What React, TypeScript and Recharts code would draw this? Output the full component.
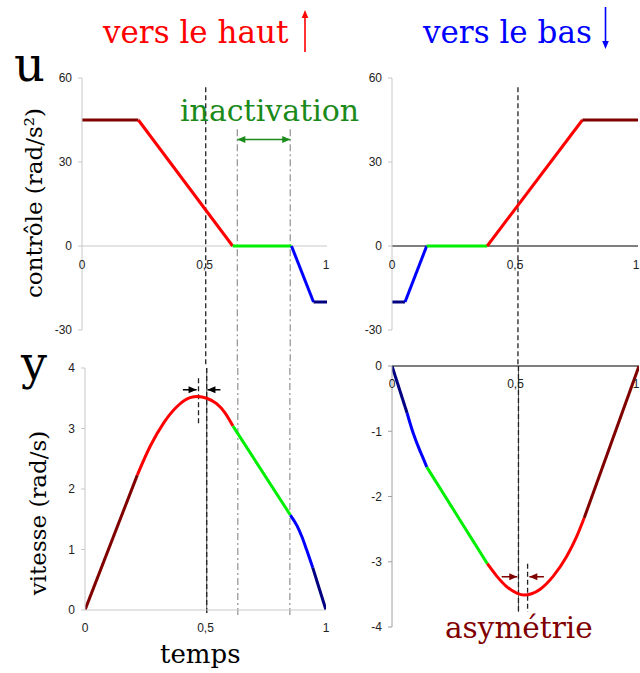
import React from 'react';
import { LineChart, Line, XAxis, YAxis, ReferenceLine } from 'recharts';

const MAROON = '#800000';
const RED = '#ff0000';
const LIME = '#00ee00';
const BLUE = '#0000ff';
const NAVY = '#000080';

// ticks
const tempsTicks = [0, 0.5, 1];
const uTicks = [-30, 0, 30, 60];
const vHautTicks = [0, 1, 2, 3, 4];
const vBasTicks = [-4, -3, -2, -1, 0];

// contrôle u, "vers le haut"
const uHautT = [0, 0.23, 0.615, 0.855, 0.945, 1];
const uHautV = [45, 45, 0, 0, -20, -20];
const uHautColors = [MAROON, RED, LIME, BLUE, NAVY];

// contrôle u, "vers le bas"
const uBasT = [0, 0.053, 0.141, 0.387, 0.774, 1];
const uBasV = [-20, -20, 0, 0, 45, 45];
const uBasColors = [NAVY, BLUE, LIME, RED, MAROON];

// vitesse y, "vers le haut"
const vHautT1 = [0, 0.217];
const vHautV1 = [0, 2.23];
const vHautT2 = [0.217, 0.271, 0.326, 0.381, 0.436, 0.468, 0.505, 0.546, 0.581, 0.614];
const vHautV2 = [2.23, 2.71, 3.09, 3.36, 3.51, 3.53, 3.5, 3.41, 3.26, 3.04];
const vHautT3 = [0.614, 0.852];
const vHautV3 = [3.04, 1.57];
const vHautT4 = [0.852, 0.88, 0.9, 0.92, 0.945];
const vHautV4 = [1.57, 1.39, 1.21, 0.99, 0.7];
const vHautT5 = [0.945, 0.97, 1];
const vHautV5 = [0.7, 0.38, 0];

// vitesse y, "vers le bas"
const vBasT1 = [0, 0.061];
const vBasV1 = [0, -0.72];
const vBasT2 = [0.061, 0.085, 0.112, 0.128, 0.141];
const vBasV2 = [-0.72, -1.02, -1.29, -1.43, -1.55];
const vBasT3 = [0.141, 0.386];
const vBasV3 = [-1.55, -3.03];
const vBasT4 = [0.386, 0.424, 0.464, 0.505, 0.535, 0.565, 0.6, 0.653, 0.707, 0.747, 0.778];
const vBasV4 = [-3.03, -3.22, -3.38, -3.48, -3.51, -3.49, -3.42, -3.22, -2.92, -2.62, -2.33];
const vBasT5 = [0.778, 1];
const vBasV5 = [-2.33, 0];

// annotation positions (time)
const midHaut = 0.505;
const midBas = 0.512;
const inactStart = 0.634;
const inactEnd = 0.85;
const peakHaut = 0.471;
const peakBas = 0.549;

const seg = (t: number[], v: number[]) => t.map((x, i) => ({ t: x, v: v[i] }));
const stepSegs = (t: number[], v: number[]) =>
  t.slice(0, -1).map((_, i) => seg([t[i], t[i + 1]], [v[i], v[i + 1]]));

const TICK_FONT = 'Liberation Sans, Arial, sans-serif';
const SERIF = 'DejaVu Serif, serif';

const makeTempsTick = (lift: number) => (props: any) => {
  const { x, y, payload } = props;
  return (
    <text x={x} y={y + lift} textAnchor="middle" fontFamily={TICK_FONT} fontSize={12} fill="#222">
      {String(payload.value).replace('.', ',')}
    </text>
  );
};

const makeArrow = (color: string, both = false) => (p: any) => {
  const { x1, y1, x2, y2 } = p;
  const a = Math.atan2(y2 - y1, x2 - x1);
  const L = 8;
  const W = 3.5;
  const head = (x: number, y: number, ang: number) => {
    const bx = x - L * Math.cos(ang);
    const by = y - L * Math.sin(ang);
    return `${x},${y} ${bx + W * Math.sin(ang)},${by - W * Math.cos(ang)} ${bx - W * Math.sin(ang)},${by + W * Math.cos(ang)}`;
  };
  return (
    <g>
      <line x1={x1} y1={y1} x2={x2} y2={y2} stroke={color} strokeWidth={1.5} />
      <polygon points={head(x2, y2, a)} fill={color} />
      {both && <polygon points={head(x1, y1, a + Math.PI)} fill={color} />}
    </g>
  );
};

const yTick = { fontSize: 12, fill: '#222', fontFamily: TICK_FONT };
const DASH = '5 3';
const DASHDOT = '7 3 2 3';

const lineProps = { dataKey: 'v', dot: false, isAnimationActive: false, strokeWidth: 3 } as const;

export default function App() {
  const uHautSegs = stepSegs(uHautT, uHautV);
  const uBasSegs = stepSegs(uBasT, uBasV);
  return (
    <div style={{ position: 'absolute', left: 0, top: 0, width: 640, height: 673, background: '#fff' }}>
      {/* top-left: contrôle, vers le haut */}
      <div style={{ position: 'absolute', left: 0, top: 0 }}>
        <LineChart width={330} height={368} margin={{ top: 78, right: 3, left: 42, bottom: 18 }}>
          <XAxis type="number" dataKey="t" domain={[0, 1]} ticks={tempsTicks} height={20}
            axisLine={false} tickLine={false} tickSize={0} tickMargin={0} tick={makeTempsTick(-61)} allowDataOverflow />
          <YAxis type="number" domain={[-30, 60]} ticks={uTicks} width={40} interval={0}
            axisLine={{ stroke: '#c8c8c8' }} tickLine={{ stroke: '#c8c8c8' }} tickSize={4} tickMargin={6} tick={yTick} allowDataOverflow />
          <ReferenceLine y={0} stroke="#c8c8c8" />
          <ReferenceLine segment={[{ x: midHaut, y: 56.7 }, { x: midHaut, y: -43.3 }]} ifOverflow="visible" stroke="#222" strokeDasharray={DASH} strokeWidth={1.3} />
          <ReferenceLine segment={[{ x: inactStart, y: 41.7 }, { x: inactStart, y: -43.3 }]} ifOverflow="visible" stroke="#999" strokeDasharray={DASHDOT} strokeWidth={1.3} />
          <ReferenceLine segment={[{ x: inactEnd, y: 41.7 }, { x: inactEnd, y: -43.3 }]} ifOverflow="visible" stroke="#999" strokeDasharray={DASHDOT} strokeWidth={1.3} />
          <ReferenceLine segment={[{ x: inactStart, y: 38 }, { x: inactEnd, y: 38 }]} ifOverflow="visible" shape={makeArrow('#1a8a1a', true)} />
          {uHautSegs.map((d, i) => (
            <Line key={i} data={d} type="linear" stroke={uHautColors[i]} {...lineProps} />
          ))}
        </LineChart>
      </div>

      {/* top-right: contrôle, vers le bas */}
      <div style={{ position: 'absolute', left: 340, top: 0 }}>
        <LineChart width={300} height={368} margin={{ top: 78, right: 2, left: 12, bottom: 18 }}>
          <XAxis type="number" dataKey="t" domain={[0, 1]} ticks={tempsTicks} height={20}
            axisLine={false} tickLine={false} tickSize={0} tickMargin={0} tick={makeTempsTick(-61)} allowDataOverflow />
          <YAxis type="number" domain={[-30, 60]} ticks={uTicks} width={40} interval={0}
            axisLine={{ stroke: '#c8c8c8' }} tickLine={{ stroke: '#c8c8c8' }} tickSize={4} tickMargin={6} tick={yTick} allowDataOverflow />
          <ReferenceLine y={0} stroke="#000" strokeWidth={1.2} />
          <ReferenceLine segment={[{ x: midBas, y: 56.7 }, { x: midBas, y: -43.3 }]} ifOverflow="visible" stroke="#222" strokeDasharray={DASH} strokeWidth={1.3} />
          {uBasSegs.map((d, i) => (
            <Line key={i} data={d} type="linear" stroke={uBasColors[i]} {...lineProps} />
          ))}
        </LineChart>
      </div>

      {/* bottom-left: vitesse, vers le haut */}
      <div style={{ position: 'absolute', left: 0, top: 340 }}>
        <LineChart width={330} height={333} margin={{ top: 28, right: 4, left: 45, bottom: 33 }}>
          <XAxis type="number" dataKey="t" domain={[0, 1]} ticks={tempsTicks} height={30}
            axisLine={{ stroke: '#c8c8c8' }} tickLine={false} tickSize={0} tickMargin={0} tick={makeTempsTick(22)} allowDataOverflow />
          <YAxis type="number" domain={[0, 4]} ticks={vHautTicks} width={40} interval={0}
            axisLine={{ stroke: '#c8c8c8' }} tickLine={{ stroke: '#c8c8c8' }} tickSize={4} tickMargin={6} tick={yTick} allowDataOverflow />
          <ReferenceLine segment={[{ x: midHaut, y: 4 }, { x: midHaut, y: -0.05 }]} ifOverflow="visible" stroke="#555" strokeWidth={1} />
          <ReferenceLine segment={[{ x: midHaut, y: 4 }, { x: midHaut, y: -0.05 }]} ifOverflow="visible" stroke="#222" strokeDasharray={DASH} strokeWidth={1.3} />
          <ReferenceLine segment={[{ x: inactStart, y: 4 }, { x: inactStart, y: -0.115 }]} ifOverflow="visible" stroke="#999" strokeDasharray={DASHDOT} strokeWidth={1.3} />
          <ReferenceLine segment={[{ x: inactEnd, y: 4 }, { x: inactEnd, y: -0.115 }]} ifOverflow="visible" stroke="#999" strokeDasharray={DASHDOT} strokeWidth={1.3} />
          <ReferenceLine segment={[{ x: peakHaut, y: 3.83 }, { x: peakHaut, y: 3.05 }]} ifOverflow="visible" stroke="#222" strokeDasharray={DASH} strokeWidth={1.3} />
          <ReferenceLine segment={[{ x: 0.406, y: 3.64 }, { x: 0.463, y: 3.64 }]} ifOverflow="visible" shape={makeArrow('#000')} />
          <ReferenceLine segment={[{ x: 0.562, y: 3.64 }, { x: 0.508, y: 3.64 }]} ifOverflow="visible" shape={makeArrow('#000')} />
          <Line data={seg(vHautT1, vHautV1)} type="linear" stroke={MAROON} {...lineProps} />
          <Line data={seg(vHautT2, vHautV2)} type="monotone" stroke={RED} {...lineProps} />
          <Line data={seg(vHautT3, vHautV3)} type="linear" stroke={LIME} {...lineProps} />
          <Line data={seg(vHautT4, vHautV4)} type="monotone" stroke={BLUE} {...lineProps} />
          <Line data={seg(vHautT5, vHautV5)} type="monotone" stroke={NAVY} {...lineProps} />
        </LineChart>
      </div>

      {/* bottom-right: vitesse, vers le bas */}
      <div style={{ position: 'absolute', left: 340, top: 340 }}>
        <LineChart width={300} height={333} margin={{ top: 26, right: 1, left: 12, bottom: 26 }}>
          <XAxis type="number" dataKey="t" domain={[0, 1]} ticks={tempsTicks} height={20}
            axisLine={false} tickLine={false} tickSize={0} tickMargin={0} tick={makeTempsTick(-239)} allowDataOverflow />
          <YAxis type="number" domain={[-4, 0]} ticks={vBasTicks} width={40} interval={0}
            axisLine={{ stroke: '#a0a0a0' }} tickLine={{ stroke: '#a0a0a0' }} tickSize={4} tickMargin={6} tick={yTick} allowDataOverflow />
          <ReferenceLine y={0} stroke="#000" strokeWidth={1.2} />
          <ReferenceLine segment={[{ x: midBas, y: 0 }, { x: midBas, y: -3.77 }]} ifOverflow="visible" stroke="#555" strokeWidth={1} />
          <ReferenceLine segment={[{ x: midBas, y: 0 }, { x: midBas, y: -3.77 }]} ifOverflow="visible" stroke="#222" strokeDasharray={DASH} strokeWidth={1.3} />
          <ReferenceLine segment={[{ x: peakBas, y: -3.03 }, { x: peakBas, y: -3.77 }]} ifOverflow="visible" stroke="#222" strokeDasharray={DASH} strokeWidth={1.3} />
          <ReferenceLine segment={[{ x: 0.444, y: -3.23 }, { x: 0.507, y: -3.23 }]} ifOverflow="visible" shape={makeArrow(MAROON)} />
          <ReferenceLine segment={[{ x: 0.615, y: -3.23 }, { x: 0.556, y: -3.23 }]} ifOverflow="visible" shape={makeArrow(MAROON)} />
          <Line data={seg(vBasT1, vBasV1)} type="linear" stroke={NAVY} {...lineProps} />
          <Line data={seg(vBasT2, vBasV2)} type="monotone" stroke={BLUE} {...lineProps} />
          <Line data={seg(vBasT3, vBasV3)} type="linear" stroke={LIME} {...lineProps} />
          <Line data={seg(vBasT4, vBasV4)} type="monotone" stroke={RED} {...lineProps} />
          <Line data={seg(vBasT5, vBasV5)} type="linear" stroke={MAROON} {...lineProps} />
        </LineChart>
      </div>

      {/* texts */}
      <svg width={640} height={673} style={{ position: 'absolute', left: 0, top: 0, pointerEvents: 'none' }}>
        <text x={103} y={43} fontFamily={SERIF} fontSize={31} fill="#ff0000">vers le haut</text>
        <line x1={305} y1={52} x2={305} y2={16} stroke="#ff0000" strokeWidth={1.6} />
        <polygon points="305,10 301.7,18 308.3,18" fill="#ff0000" />
        <text x={423} y={43} fontFamily={SERIF} fontSize={31} fill="#0000ff">vers le bas</text>
        <line x1={605.5} y1={7} x2={605.5} y2={42} stroke="#0000ff" strokeWidth={1.6} />
        <polygon points="605.5,49 602.2,41 608.8,41" fill="#0000ff" />
        <text x={14} y={81} fontFamily={SERIF} fontSize={48} fill="#000">u</text>
        <text x={21} y={379} fontFamily={SERIF} fontSize={46} fill="#000">y</text>
        <text x={180} y={121} fontFamily={SERIF} fontSize={30} fill="#1a8a1a">inactivation</text>
        <text x={42} y={203} transform="rotate(-90, 42, 203)" textAnchor="middle" fontFamily={SERIF} fontSize={23} fill="#000">contrôle (rad/s²)</text>
        <text x={46} y={513} transform="rotate(-90, 46, 513)" textAnchor="middle" fontFamily={SERIF} fontSize={23} fill="#000">vitesse (rad/s)</text>
        <text x={160} y={663} fontFamily={SERIF} fontSize={26} fill="#000">temps</text>
        <text x={445} y={638} fontFamily={SERIF} fontSize={29.5} fill={MAROON}>asymétrie</text>
      </svg>
    </div>
  );
}
